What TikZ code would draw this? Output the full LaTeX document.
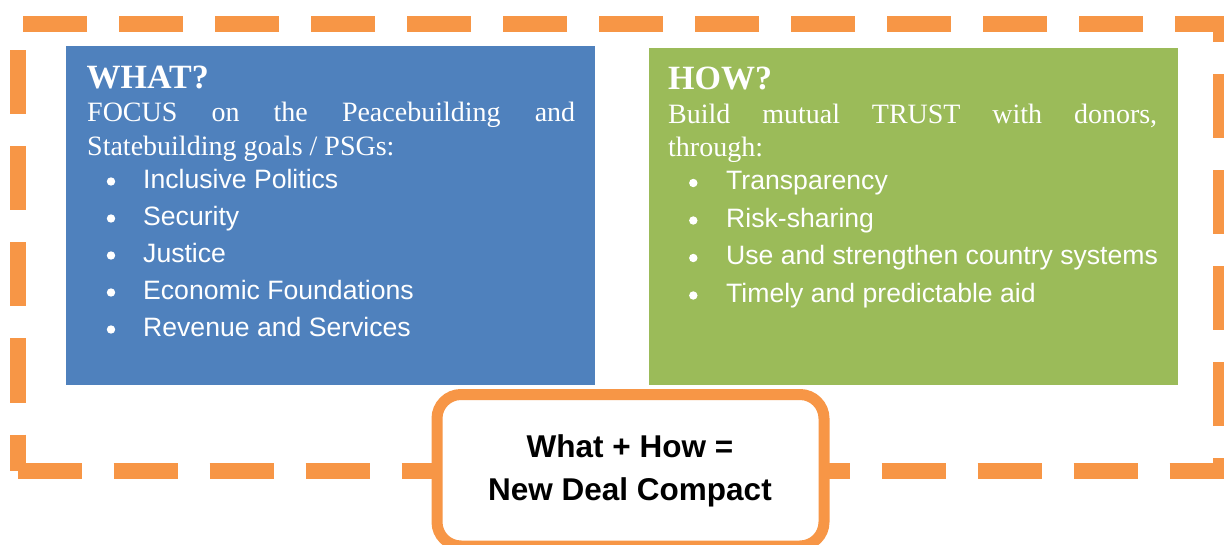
\documentclass[tikz,border=0pt]{standalone}
\usepackage{fontspec}
\setmainfont{Liberation Serif}
\setsansfont{Liberation Sans}
\hyphenpenalty=10000
\exhyphenpenalty=10000
\tolerance=10000
\definecolor{ndorange}{HTML}{F79646}
\definecolor{ndblue}{HTML}{4F81BD}
\definecolor{ndgreen}{HTML}{9BBB59}
\begin{document}
\begin{tikzpicture}[x=1pt,y=-1pt,
  panel/.style={anchor=north west, inner sep=0pt, outer sep=0pt},
  heading/.style={anchor=base west, inner sep=0pt, text=white,
    font=\fontsize{34}{40}\selectfont\bfseries},
  para/.style={anchor=base west, inner sep=0pt, text=white,
    text width=488pt, align=justify, font=\fontsize{28}{33.5}\selectfont},
  item/.style={anchor=base west, inner sep=0pt, text=white,
    font=\sffamily\fontsize{26.6}{31}\selectfont},
  dot/.style={circle, fill=white, inner sep=0pt, minimum size=8.4pt},
  frameline/.style={draw=ndorange, line width=16pt,
    dash pattern=on 64pt off 32pt, line join=miter},
  dealbox/.style={draw=ndorange, fill=white, line width=11pt,
    rounded corners=24pt, inner sep=0pt,
    minimum width=387pt, minimum height=151.5pt},
  dealtext/.style={anchor=base, inner sep=0pt, text=black,
    font=\sffamily\bfseries\fontsize{31.5}{38}\selectfont}]
\useasboundingbox (0,0) rectangle (1224,545);

% dashed outer frame, one open path starting at the lower left corner
\coordinate (f1) at (17.5,470.5);
\coordinate (f2) at (1221,470.5);
\coordinate (f3) at (1221,24);
\coordinate (f4) at (17.5,24);
\draw[frameline] (f1) -- (f2) -- (f3) -- (f4) -- (f1);

% WHAT panel
\node[panel, fill=ndblue, minimum width=529pt, minimum height=338.7pt] (what) at (66,46) {};
\node[heading] (whath) at (86.5,88.3) {WHAT?};
\node[para] (whatp) at (87,121.7) {FOCUS on the Peacebuilding and\linebreak Statebuilding goals / PSGs:};
\foreach \y/\t [count=\i] in {188.5/Inclusive Politics, 225.5/Security, 262.5/Justice,
    299.5/Economic Foundations, 336.5/Revenue and Services} {
  \node[dot] (wd\i) at (111,\y-7) {};
  \node[item] (wi\i) at (143,\y) {\t};
}

% HOW panel
\node[panel, fill=ndgreen, minimum width=529pt, minimum height=336.7pt] (how) at (649,48) {};
\node[heading] (howh) at (668,90) {HOW?};
\node[para, text width=489pt] (howp) at (668,123.5) {Build mutual TRUST with donors,\linebreak through:};
\foreach \y/\t [count=\i] in {190/Transparency, 227.5/Risk-sharing,
    265/Use and strengthen country systems, 302.5/Timely and predictable aid} {
  \node[dot] (hd\i) at (693.3,\y-7) {};
  \node[item] (hi\i) at (726,\y) {\t};
}

% compact box on the frame
\node[dealbox] (deal) at (630.5,470.25) {};
\node[dealtext] (deal1) at (630,457) {What + How =};
\node[dealtext] (deal2) at (630,500.5) {New Deal Compact};
\end{tikzpicture}
\end{document}
